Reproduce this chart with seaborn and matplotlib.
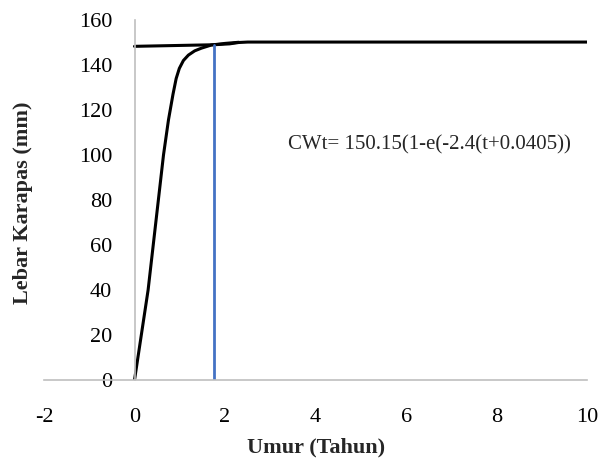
import pandas as pd
import matplotlib.pyplot as plt
import seaborn as sns

# data
umur = [0, 0.3, 0.64, 0.75, 0.85, 0.92, 0.99, 1.08, 1.19, 1.33, 1.48, 1.7, 2.0, 2.3]
lebar = [0, 40, 100, 115.6, 127, 134, 138.5, 142, 144.4, 146.3, 147.5, 148.9, 149.6, 150.1]
garis_x = [0, 1.0, 1.75, 2.1, 2.3, 2.5, 10]
garis_y = [148.3, 148.7, 149.0, 149.4, 150.0, 150.2, 150.2]
tmax_x = [1.75, 1.75]
tmax_y = [0, 149]
xticks = [-2, 0, 2, 4, 6, 8, 10]
yticks = [0, 20, 40, 60, 80, 100, 120, 140, 160]

sns.set_style("white")
plt.rcParams['font.family'] = ['Liberation Serif', 'DejaVu Serif']

kurva = pd.DataFrame({'x': umur, 'y': lebar})
atas = pd.DataFrame({'x': garis_x, 'y': garis_y})

fig = plt.figure(figsize=(6.01, 4.61), dpi=100)
ax = fig.add_axes([0.0732, 0.1757, 0.9038, 0.7809])

sns.lineplot(data=atas, x='x', y='y', color='black', lw=2.2, ax=ax,
             estimator=None, sort=False)
sns.lineplot(data=kurva, x='x', y='y', color='black', lw=2.2, ax=ax,
             estimator=None, sort=False)
ax.plot(tmax_x, tmax_y, color='#4472C4', lw=2)

ax.set_xlim(-2, 10)
ax.set_ylim(0, 160)
ax.set_xticks(xticks)
ax.set_yticks(yticks)
ax.set_xticklabels([str(v) for v in xticks])
ax.set_yticklabels([str(v) for v in yticks])

ax.spines['left'].set_position(('data', 0))
ax.spines['right'].set_visible(False)
ax.spines['top'].set_visible(False)
for s in ['left', 'bottom']:
    ax.spines[s].set_color('#bfbfbf')
    ax.spines[s].set_linewidth(1.2)
ax.tick_params(axis='both', length=0, labelsize=16, colors='black')
ax.tick_params(axis='x', pad=20)
ax.tick_params(axis='y', pad=16)

ax.set_xlabel('Umur (Tahun)', fontsize=16, fontweight='bold', labelpad=8)
ax.set_ylabel('')
fig.text(0.038, 0.56, 'Lebar Karapas (mm)', rotation=90, fontsize=16,
         fontweight='bold', ha='center', va='center')

ax.text(3.4, 104.4, 'CWt= 150.15(1-e(-2.4(t+0.0405))', fontsize=15,
        va='center', ha='left')

fig.savefig('out.png', dpi=100)
